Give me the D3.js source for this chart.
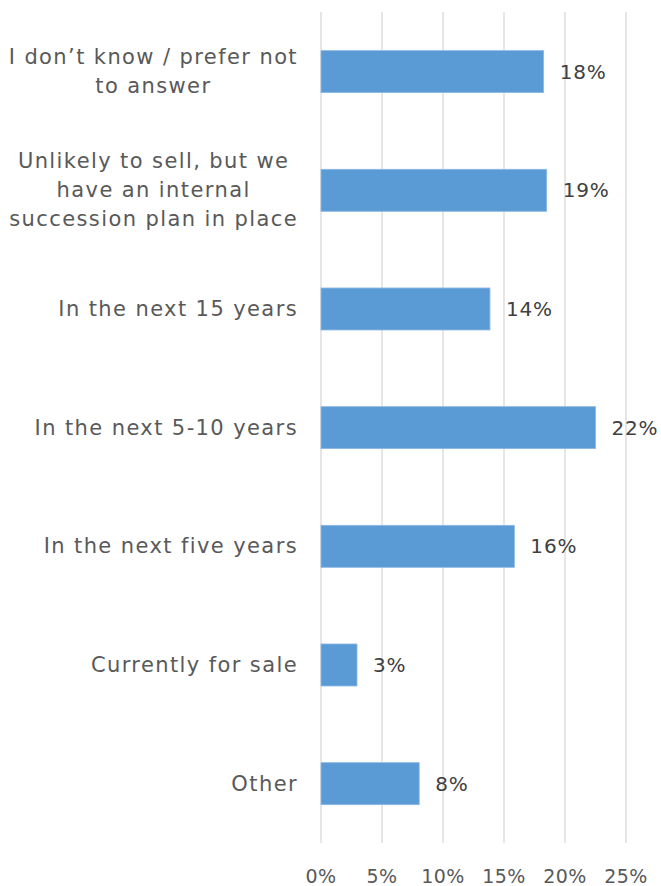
<!DOCTYPE html>
<html>
<head>
<script src="https://cdn.jsdelivr.net/npm/d3@7"></script>
<style>
  body { margin: 0; background: #fff; }
</style>
</head>
<body>
<script>
// categories top to bottom, each label split into its wrapped lines
var categories = [
  ["I don\u2019t know / prefer not", "to answer"],
  ["Unlikely to sell, but we", "have an internal", "succession plan in place"],
  ["In the next 15 years"],
  ["In the next 5-10 years"],
  ["In the next five years"],
  ["Currently for sale"],
  ["Other"]
];
var values = [18.25, 18.5, 13.85, 22.5, 15.85, 2.95, 8.05];
var valueLabels = ["18%", "19%", "14%", "22%", "16%", "3%", "8%"];
var ticks = [0, 5, 10, 15, 20, 25];

var width = 661, height = 886;
var font = "'Century Gothic', 'URW Gothic', 'DejaVu Sans', sans-serif";

var svg = d3.select("body").append("svg")
    .attr("width", width)
    .attr("height", height);

var x = d3.scaleLinear().domain([0, 25]).range([321, 626]);
var y = d3.scaleBand().domain(d3.range(categories.length)).range([12.3, 843]).paddingInner(0.646).paddingOuter(0.323);

// gridlines
svg.selectAll("line.grid")
    .data(ticks)
    .enter().append("line")
    .attr("class", "grid")
    .attr("x1", function(d) { return x(d); })
    .attr("x2", function(d) { return x(d); })
    .attr("y1", 12)
    .attr("y2", 843)
    .attr("stroke", "#d9d9d9")
    .attr("stroke-width", 1.3);

// tick labels
svg.selectAll("text.tick")
    .data(ticks)
    .enter().append("text")
    .attr("class", "tick")
    .attr("x", function(d) { return x(d); })
    .attr("y", 883)
    .attr("text-anchor", "middle")
    .attr("font-family", font)
    .attr("font-size", "19px")
    .attr("letter-spacing", "0.5px")
    .attr("fill", "#595959")
    .text(function(d) { return d + "%"; });

// bars
svg.selectAll("rect.bar")
    .data(values)
    .enter().append("rect")
    .attr("class", "bar")
    .attr("x", x(0))
    .attr("y", function(d, i) { return y(i); })
    .attr("width", function(d) { return x(d) - x(0); })
    .attr("height", y.bandwidth())
    .attr("fill", "#5b9bd5")
    .attr("stroke", "#8db8e3")
    .attr("stroke-width", 0.8);

// value labels
svg.selectAll("text.val")
    .data(values)
    .enter().append("text")
    .attr("class", "val")
    .attr("x", function(d) { return x(d) + 16; })
    .attr("y", function(d, i) { return y(i) + y.bandwidth() / 2 + 7; })
    .attr("font-family", font)
    .attr("font-size", "20px")
    .attr("letter-spacing", "0.8px")
    .attr("fill", "#404040")
    .text(function(d, i) { return valueLabels[i]; });

// category labels, wrapped lines centred on each other, block right aligned
var lineH = 29;
var catG = svg.selectAll("g.cat")
    .data(categories)
    .enter().append("g")
    .attr("class", "cat");

catG.each(function(lines, i) {
  var g = d3.select(this);
  var cy = y(i) + y.bandwidth() / 2;
  var t = g.append("text")
      .attr("font-family", font)
      .attr("font-size", "21px")
      .attr("letter-spacing", "1.4px")
      .attr("fill", "#595959")
      .attr("text-anchor", "middle");
  lines.forEach(function(s, k) {
    t.append("tspan")
      .attr("x", 0)
      .attr("y", cy + (k - (lines.length - 1) / 2) * lineH + 7)
      .text(s);
  });
  var w = t.node().getBBox().width;
  t.attr("transform", "translate(" + (298 - w / 2) + ",0)");
});
</script>
</body>
</html>
